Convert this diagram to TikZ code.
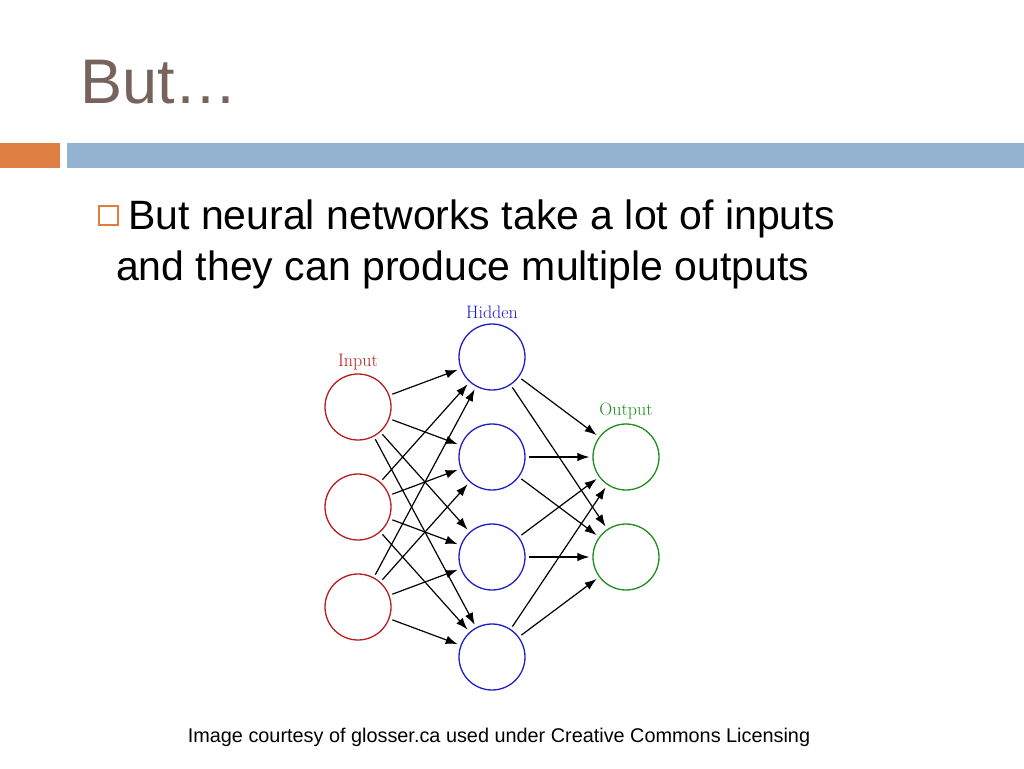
\documentclass[tikz,border=0pt]{standalone}
\usepackage{fontspec}
\setmainfont{Liberation Sans}
\newfontfamily\lmfont{Latin Modern Roman}
\usetikzlibrary{arrows.meta}
\definecolor{titlec}{HTML}{76635B}
\definecolor{orbar}{HTML}{DF7E42}
\definecolor{blbar}{HTML}{93B3D1}
\definecolor{inred}{HTML}{B41E1E}
\definecolor{hidblue}{HTML}{1E1EC8}
\definecolor{outgreen}{HTML}{1E8C1E}
\begin{document}
\begin{tikzpicture}[x=1pt,y=-1pt,
  neuron/.style={circle,draw,line width=1.3pt,minimum size=66pt,inner sep=0pt},
  innode/.style={neuron,draw=inred},
  hidnode/.style={neuron,draw=hidblue},
  outnode/.style={neuron,draw=outgreen},
  conn/.style={line width=1.2pt,-{Latex[length=12pt,width=8.5pt]},shorten >=3pt,shorten <=3pt},
  lbl/.style={font=\lmfont\fontsize{18}{21}\selectfont,anchor=base}]
\useasboundingbox (0,0) rectangle (1024,768);
\fill[white] (0,0) rectangle (1024,768);
% title
\node[anchor=base west,inner sep=0pt,text=titlec,font=\fontsize{63}{74}\selectfont] (title) at (80,103) {But…};
% bars
\fill[orbar] (0,143) rectangle (60,168);
\fill[blbar] (67,143) rectangle (1024,168);
% bullet
\draw[orbar,line width=1.3pt] (99,206) rectangle (118,225);
\node[anchor=base west,inner sep=0pt,font=\fontsize{41}{48}\selectfont] (l1) at (128,229) {But neural networks take a lot of inputs};
\node[anchor=base west,inner sep=0pt,font=\fontsize{41}{48}\selectfont] (l2) at (116,280) {and they can produce multiple outputs};
% neurons
\foreach \i/\y in {1/407,2/507,3/607} \node[innode] (I\i) at (358,\y) {};
\foreach \i/\y in {1/357,2/457,3/557,4/657} \node[hidnode] (H\i) at (492,\y) {};
\foreach \i/\y in {1/457,2/557} \node[outnode] (O\i) at (626,\y) {};
\node[lbl,text=inred] (linput) at (358,366) {Input};
\node[lbl,text=hidblue] (lhidden) at (492,318) {Hidden};
\node[lbl,text=outgreen] (loutput) at (626,415) {Output};
\foreach \i in {1,2,3} \foreach \h in {1,2,3,4} \draw[conn] (I\i) -- (H\h);
\foreach \h in {1,2,3,4} \foreach \o in {1,2} \draw[conn] (H\h) -- (O\o);
% footer
\node[anchor=base,inner sep=0pt,font=\fontsize{19.85}{23}\selectfont] (foot) at (499,742) {Image courtesy of glosser.ca used under Creative Commons Licensing};
\end{tikzpicture}
\end{document}
